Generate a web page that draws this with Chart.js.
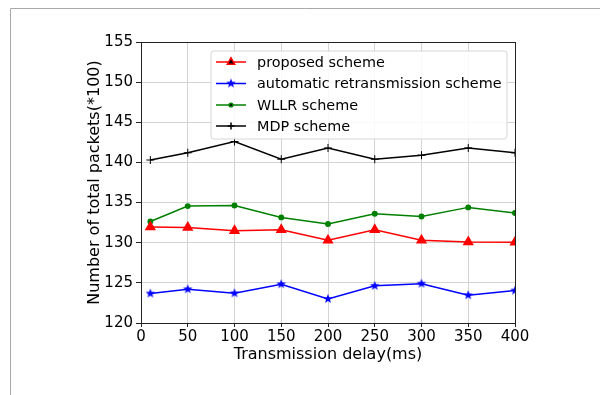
<!DOCTYPE html>
<html>
<head>
<meta charset="utf-8">
<script src="https://cdn.jsdelivr.net/npm/chart.js@4/dist/chart.umd.min.js"></script>
<style>
  html, body { margin: 0; padding: 0; background: #fff; }
  #wrap { width: 600px; height: 395px; position: relative; }
</style>
</head>
<body>
<div id="wrap"><canvas id="chart" width="600" height="395"></canvas></div>
<script>
// ==== Data ====
const delays = [10, 50, 100, 150, 200, 250, 300, 350, 400];
const proposed = [131.95, 131.9, 131.5, 131.6, 130.3, 131.6, 130.3, 130.1, 130.05];
const automatic = [123.67, 124.2, 123.7, 124.83, 123.0, 124.63, 124.9, 123.46, 124.04];
const wllr = [132.65, 134.56, 134.64, 133.15, 132.33, 133.6, 133.27, 134.4, 133.7];
const mdp = [140.3, 141.2, 142.6, 140.4, 141.8, 140.4, 140.9, 141.8, 141.2];
const seriesNames = ["proposed scheme", "automatic retransmission scheme", "WLLR scheme", "MDP scheme"];

const FONT = "'DejaVu Sans', sans-serif";

// filled star marker like matplotlib '*'
function makeStar(color, r) {
  const c = document.createElement("canvas");
  const s = Math.ceil(r * 2 + 2);
  c.width = s; c.height = s;
  const g = c.getContext("2d");
  g.fillStyle = color;
  g.beginPath();
  for (let i = 0; i < 10; i++) {
    const rad = i % 2 === 0 ? r : r * 0.42;
    const a = -Math.PI / 2 + i * Math.PI / 5;
    const x = s / 2 + rad * Math.cos(a), y = s / 2 + rad * Math.sin(a);
    i === 0 ? g.moveTo(x, y) : g.lineTo(x, y);
  }
  g.closePath();
  g.fill();
  return c;
}
const blueStar = makeStar("#0000ff", 5);

function toPts(vals) {
  return vals.map((v, i) => ({ x: delays[i], y: v }));
}

const datasets = [
  { label: seriesNames[0], data: toPts(proposed), borderColor: "#ff0000", backgroundColor: "#ff0000",
    pointStyle: "triangle", pointRadius: 5, borderWidth: 1.5 },
  { label: seriesNames[1], data: toPts(automatic), borderColor: "#0000ff", backgroundColor: "#0000ff",
    pointStyle: blueStar, pointRadius: 5, borderWidth: 1.5 },
  { label: seriesNames[2], data: toPts(wllr), borderColor: "#008000", backgroundColor: "#008000",
    pointStyle: "circle", pointRadius: 2.2, borderWidth: 1.5 },
  { label: seriesNames[3], data: toPts(mdp), borderColor: "#000000", backgroundColor: "#000000",
    pointStyle: "cross", pointRadius: 4, pointBorderWidth: 1, borderWidth: 1.5 }
];

// ==== Frame, spines and in-plot legend ====
const extras = {
  id: "extras",
  beforeDraw(chart) {
    const ctx = chart.ctx;
    ctx.save();
    ctx.fillStyle = "#fff";
    ctx.fillRect(0, 0, chart.width, chart.height);
    ctx.strokeStyle = "#a8a8a8";
    ctx.lineWidth = 1;
    ctx.beginPath();
    ctx.moveTo(10.5, 395);
    ctx.lineTo(10.5, 8.5);
    ctx.lineTo(600, 8.5);
    ctx.stroke();
    ctx.restore();
  },
  afterDraw(chart) {
    const ctx = chart.ctx;
    const a = chart.chartArea;
    ctx.save();
    ctx.strokeStyle = "#222";
    ctx.lineWidth = 1;
    ctx.strokeRect(a.left + 0.5, a.top + 0.5, a.right - a.left, a.bottom - a.top);

    // legend box
    const bx = 211, by = 51, bw = 296, bh = 88;
    ctx.globalAlpha = 0.85;
    ctx.fillStyle = "#fff";
    ctx.beginPath();
    ctx.roundRect(bx, by, bw, bh, 3);
    ctx.fill();
    ctx.globalAlpha = 1;
    ctx.strokeStyle = "#d6d6d6";
    ctx.stroke();

    ctx.font = "14.4px " + FONT;
    ctx.textBaseline = "middle";
    ctx.fillStyle = "#000";
    const rows = [62, 83.5, 105, 126];
    chart.data.datasets.forEach((ds, i) => {
      const y = rows[i];
      ctx.strokeStyle = ds.borderColor;
      ctx.lineWidth = 1.5;
      ctx.beginPath();
      ctx.moveTo(216, y);
      ctx.lineTo(246, y);
      ctx.stroke();
      Chart.helpers.drawPoint(ctx, {
        pointStyle: ds.pointStyle,
        radius: ds.pointRadius * 0.85,
        borderWidth: ds.pointBorderWidth || 1,
        rotation: 0
      }, 231, y);
      ctx.fillStyle = "#000";
      ctx.fillText(ds.label, 257, y + 1);
    });
    ctx.restore();
  }
};

const ctx = document.getElementById("chart").getContext("2d");
Chart.defaults.font.family = FONT;
Chart.defaults.color = "#000";

new Chart(ctx, {
  type: "line",
  data: { datasets },
  options: {
    responsive: false,
    animation: false,
    layout: { padding: { left: 81, right: 85, top: 42, bottom: 27 } },
    plugins: { legend: { display: false }, tooltip: { enabled: false } },
    elements: { line: { tension: 0 }, point: { borderWidth: 1 } },
    scales: {
      x: {
        type: "linear",
        min: 0, max: 400,
        ticks: { stepSize: 50, font: { size: 15 }, padding: 1, color: "#000" },
        grid: { color: "#d4d4d4", tickColor: "#222", tickLength: 4 },
        border: { color: "#222" },
        title: { display: true, text: "Transmission delay(ms)", font: { size: 16 }, padding: { top: 0, bottom: 4 }, color: "#000" },
        afterFit: s => { s.height = 45; }
      },
      y: {
        min: 120, max: 155,
        ticks: { stepSize: 5, font: { size: 15 }, padding: 3, color: "#000" },
        grid: { color: "#d4d4d4", tickColor: "#222", tickLength: 5 },
        border: { color: "#222" },
        title: { display: true, text: "Number of total packets(*100)", font: { size: 16 }, padding: { bottom: 4 }, color: "#000" },
        afterFit: s => { s.width = 60; }
      }
    }
  },
  plugins: [extras]
});
</script>
</body>
</html>
